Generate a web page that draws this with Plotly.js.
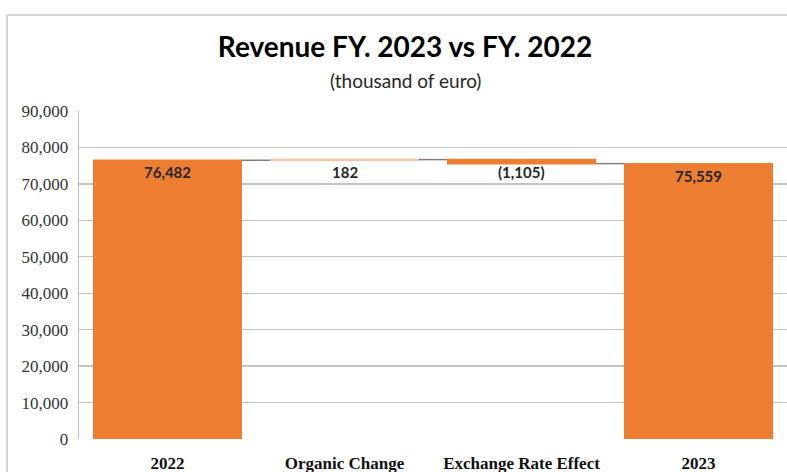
<!DOCTYPE html>
<html>
<head>
<meta charset="utf-8">
<script src="https://cdn.plot.ly/plotly-3.0.1.min.js"></script>
<style>
html,body{margin:0;padding:0;background:#fff;overflow:hidden;}
#chart{width:787px;height:472px;}
</style>
</head>
<body>
<div id="chart"></div>
<script>
const categories = ['2022', 'Organic Change', 'Exchange Rate Effect', '2023'];
const values = [76482, 182, -1105, 75559];
const measures = ['absolute', 'relative', 'relative', 'total'];
const valueLabels = ['76,482', '182', '(1,105)', '75,559'];
const yTickVals = [0, 10000, 20000, 30000, 40000, 50000, 60000, 70000, 80000, 90000];

const tops = [];
let run = 0;
for (let i = 0; i < values.length; i++) {
  let start = run;
  if (measures[i] === 'absolute') { start = 0; run = values[i]; }
  else if (measures[i] === 'relative') { run = run + values[i]; }
  else { start = 0; }
  tops.push(Math.max(start, run));
}

const trace = {
  type: 'waterfall',
  x: categories,
  y: values,
  measure: measures,
  textposition: 'none',
  hoverinfo: 'skip',
  increasing: {marker: {color: '#F8C3A0'}},
  decreasing: {marker: {color: '#ED7D31'}},
  totals: {marker: {color: '#ED7D31'}},
  connector: {line: {color: '#7f7f7f', width: 1.5}},
  cliponaxis: false
};

const W = 787, H = 472, ML = 79, MR = 0, MT = 111, MB = 33;
const PW = W - ML - MR, PH = H - MT - MB;

const annotations = categories.map((c, i) => ({
  x: i, y: tops[i], xref: 'x', yref: 'y',
  text: '<b>' + valueLabels[i] + '</b>',
  showarrow: false, yanchor: 'top', yshift: -1,
  font: {family: 'Lato, sans-serif', size: 15, color: '#262626'}
}));
annotations.push({
  x: (405 - ML) / PW, xref: 'paper', y: 1.0945, yref: 'paper',
  text: '(thousand of euro)', showarrow: false, yanchor: 'middle', xanchor: 'center',
  font: {family: 'Lato, sans-serif', size: 19, color: '#262626'}
});

// outer chart frame (left and top edges), in paper coordinates
const fx = (7 - ML) / PW, fy = (H - MB - 15) / PH;
const shapes = [
  {type: 'line', xref: 'paper', yref: 'paper', x0: fx, x1: fx, y0: -MB / PH - 0.01, y1: fy, line: {color: '#d4d4d4', width: 2}},
  {type: 'line', xref: 'paper', yref: 'paper', x0: fx, x1: 1.02, y0: fy, y1: fy, line: {color: '#d4d4d4', width: 2}}
];

const layout = {
  width: W, height: H,
  margin: {l: ML, r: MR, t: MT, b: MB},
  paper_bgcolor: '#fff', plot_bgcolor: '#fff',
  showlegend: false,
  waterfallgap: 0.158,
  title: {
    text: '<b>Revenue FY. 2023 vs FY. 2022</b>',
    x: 405/787, xanchor: 'center', xref: 'container',
    y: 1 - 47/472, yanchor: 'middle', yref: 'container',
    font: {family: 'Lato, sans-serif', size: 28, color: '#000'}
  },
  xaxis: {
    type: 'category', range: [-0.5, 3.5],
    showgrid: false, zeroline: false, showline: false, ticks: '',
    tickfont: {family: '"Liberation Serif", "Times New Roman", serif', size: 17, color: '#111', weight: 'bold'},
    ticklabelstandoff: 12
  },
  yaxis: {
    range: [0, 90000], tickvals: yTickVals, tickformat: ',d',
    showgrid: true, gridcolor: '#c4c4c4', gridwidth: 1.3,
    zeroline: false, showline: true, linecolor: '#c4c4c4', linewidth: 1.3,
    ticks: '', ticklabelstandoff: 6,
    tickfont: {family: '"Liberation Serif", "Times New Roman", serif', size: 17, color: '#333'}
  },
  shapes: shapes,
  annotations: annotations
};

Plotly.newPlot('chart', [trace], layout, {displayModeBar: false, staticPlot: true});
</script>
</body>
</html>
